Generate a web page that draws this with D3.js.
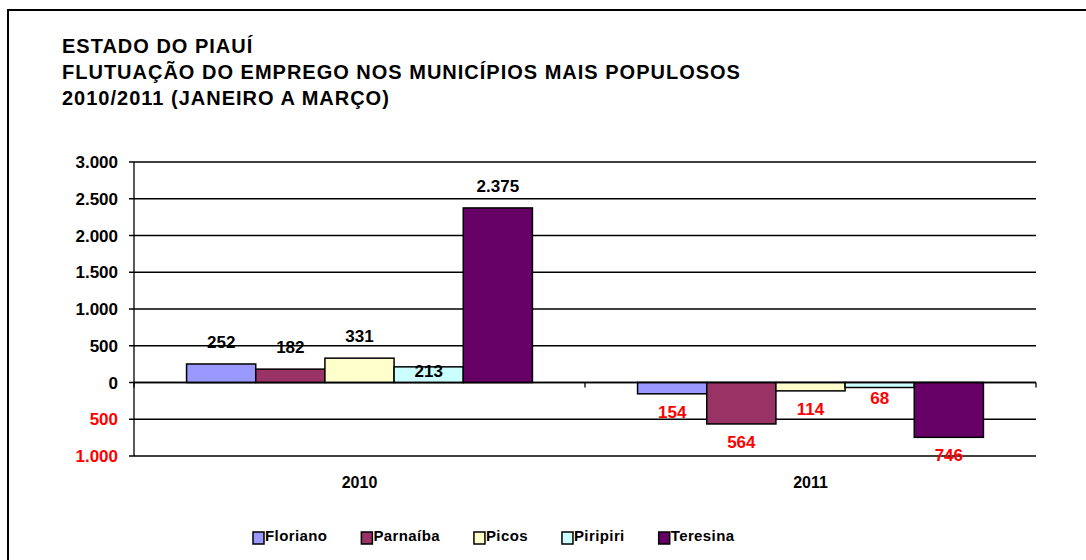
<!DOCTYPE html>
<html>
<head>
<meta charset="utf-8">
<script src="https://d3js.org/d3.v7.min.js"></script>
<style>
  html, body { margin: 0; padding: 0; background: #fff; }
  svg text { font-family: "Liberation Sans", Arial, sans-serif; font-weight: bold; }
</style>
</head>
<body>
<script>
// Chart data
const categories = ['2010', '2011'];
const seriesNames = ['Floriano', 'Parnaíba', 'Picos', 'Piripiri', 'Teresina'];
const values2010 = [252, 182, 331, 213, 2375];
const values2011 = [-154, -564, -114, -68, -746];
const seriesColors = ['#9999FF', '#993366', '#FFFFCC', '#CCFFFF', '#660066'];
const yTickValues = [-1000, -500, 0, 500, 1000, 1500, 2000, 2500, 3000];
const titleLines = [
  'ESTADO DO PIAUÍ',
  'FLUTUAÇÃO DO EMPREGO NOS MUNICÍPIOS MAIS POPULOSOS',
  '2010/2011 (JANEIRO A MARÇO)'
];

const width = 1086;
const height = 560;

const svg = d3.select('body').append('svg')
  .attr('width', width)
  .attr('height', height);

// outer frame (runs off the right and bottom edge like the original)
svg.append('rect')
  .attr('x', 8).attr('y', 10)
  .attr('width', 1200).attr('height', 700)
  .attr('fill', 'none')
  .attr('stroke', '#000')
  .attr('stroke-width', 2);

// title
svg.append('g').selectAll('text')
  .data(titleLines)
  .enter().append('text')
  .attr('x', 62)
  .attr('y', (d, i) => 53 + i * 26)
  .style('font-size', '20px')
  .style('letter-spacing', '1px')
  .text(d => d);

// scales
const plotLeft = 134, plotRight = 1036;
const x0 = d3.scaleBand().domain(categories).range([plotLeft, plotRight]);
const x1 = d3.scaleBand().domain(seriesNames).range([0, x0.bandwidth()]).paddingOuter(0.76);
const y = d3.scaleLinear().domain([-1000, 3000]).range([456, 162]);

const fmt = v => d3.format(',')(Math.abs(v)).replace(/,/g, '.');

// gridlines
svg.append('g').selectAll('line')
  .data(yTickValues)
  .enter().append('line')
  .attr('x1', plotLeft - 5).attr('x2', plotRight)
  .attr('y1', d => y(d)).attr('y2', d => y(d))
  .attr('stroke', '#000')
  .attr('stroke-width', 1.3);

// y axis labels
svg.append('g').selectAll('text')
  .data(yTickValues)
  .enter().append('text')
  .attr('x', 118)
  .attr('y', d => y(d) + 6)
  .attr('text-anchor', 'end')
  .attr('fill', d => d < 0 ? '#FF0000' : '#000')
  .style('font-size', '17px')
  .text(fmt);

// y axis line
svg.append('line')
  .attr('x1', plotLeft).attr('x2', plotLeft)
  .attr('y1', y(3000)).attr('y2', y(-1000))
  .attr('stroke', '#000').attr('stroke-width', 1.3);

// bars
const rows = seriesNames.map((name, i) => ({
  name,
  color: seriesColors[i],
  values: [values2010[i], values2011[i]]
}));

const groups = svg.append('g').selectAll('g')
  .data(categories)
  .enter().append('g')
  .attr('transform', d => `translate(${x0(d)},0)`);

const barData = (cat, ci) => rows.map(r => ({ cat, name: r.name, color: r.color, value: r.values[ci] }));

groups.each(function (cat, ci) {
  const g = d3.select(this);
  g.selectAll('rect')
    .data(barData(cat, ci))
    .enter().append('rect')
    .attr('x', d => x1(d.name))
    .attr('width', x1.bandwidth())
    .attr('y', d => y(Math.max(0, d.value)))
    .attr('height', d => Math.abs(y(d.value) - y(0)))
    .attr('fill', d => d.color)
    .attr('stroke', '#000')
    .attr('stroke-width', 1.5);
});

// category axis line with ticks
svg.append('line')
  .attr('x1', plotLeft).attr('x2', plotRight)
  .attr('y1', y(0)).attr('y2', y(0))
  .attr('stroke', '#000').attr('stroke-width', 1.3);
svg.append('g').selectAll('line')
  .data([plotLeft, plotLeft + x0.bandwidth(), plotRight])
  .enter().append('line')
  .attr('x1', d => d).attr('x2', d => d)
  .attr('y1', y(0)).attr('y2', y(0) + 5)
  .attr('stroke', '#000').attr('stroke-width', 1.3);

// value labels (Excel nudged a couple of them)
const nudge = { '2010|Piripiri': 26, '2011|Piripiri': -7 };
groups.each(function (cat, ci) {
  const g = d3.select(this);
  g.selectAll('text')
    .data(barData(cat, ci))
    .enter().append('text')
    .attr('x', d => x1(d.name) + x1.bandwidth() / 2)
    .attr('y', d => (d.value >= 0 ? y(d.value) - 16 : y(d.value) + 24) + (nudge[d.cat + '|' + d.name] || 0))
    .attr('text-anchor', 'middle')
    .attr('fill', d => d.value < 0 ? '#FF0000' : '#000')
    .style('font-size', '17px')
    .text(d => fmt(d.value));
});

// category labels
svg.append('g').selectAll('text')
  .data(categories)
  .enter().append('text')
  .attr('x', d => x0(d) + x0.bandwidth() / 2)
  .attr('y', 488)
  .attr('text-anchor', 'middle')
  .style('font-size', '16px')
  .text(d => d);

// legend
const legend = svg.append('g');
let lx = 253;
rows.forEach(r => {
  legend.append('rect')
    .attr('x', lx).attr('y', 532)
    .attr('width', 11).attr('height', 12)
    .attr('fill', r.color)
    .attr('stroke', '#000').attr('stroke-width', 1.5);
  const t = legend.append('text')
    .attr('x', lx + 12).attr('y', 541)
    .style('font-size', '15px')
    .style('letter-spacing', '0.4px')
    .text(r.name);
  lx += 12 + t.node().getComputedTextLength() + 34;
});
</script>
</body>
</html>
